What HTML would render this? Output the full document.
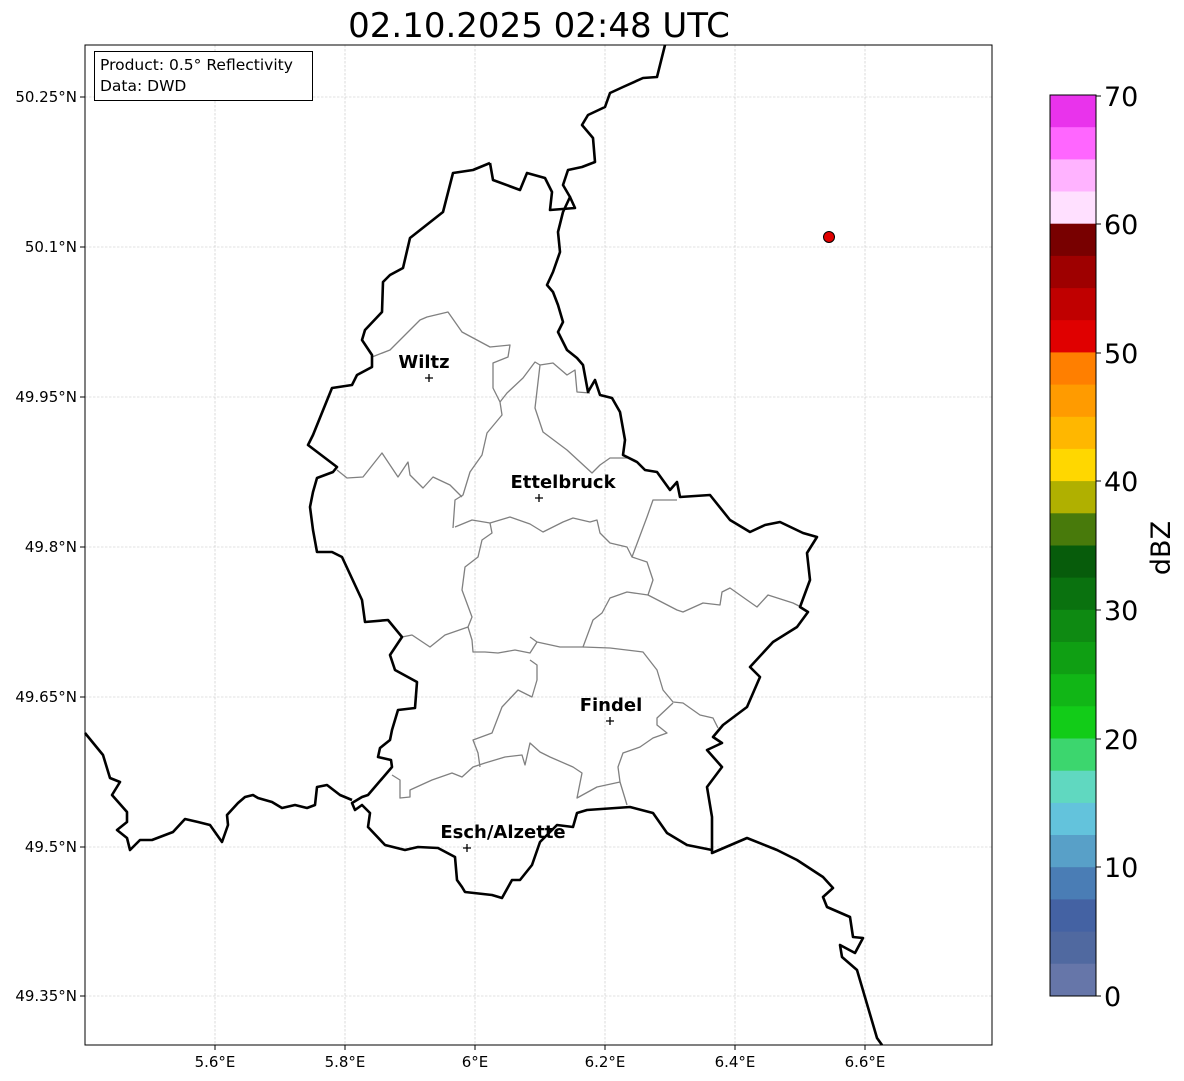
<!DOCTYPE html>
<html><head><meta charset="utf-8"><style>
body{margin:0;background:#fff}
svg{display:block;font-family:"Liberation Sans","DejaVu Sans",sans-serif}
</style></head><body>
<svg width="1184" height="1081" viewBox="0 0 1184 1081" xmlns="http://www.w3.org/2000/svg">
<rect width="1184" height="1081" fill="#fff"/>
<text x="539" y="37" font-size="34" text-anchor="middle" font-family="DejaVu Sans, sans-serif">02.10.2025 02:48 UTC</text>
<g stroke="#c4c4c4" stroke-width="0.6" stroke-dasharray="2.5,1.5">
<line x1="215" y1="45" x2="215" y2="1045"/><line x1="345" y1="45" x2="345" y2="1045"/><line x1="475" y1="45" x2="475" y2="1045"/><line x1="605" y1="45" x2="605" y2="1045"/><line x1="735" y1="45" x2="735" y2="1045"/><line x1="865" y1="45" x2="865" y2="1045"/>
<line x1="85" y1="97" x2="992" y2="97"/><line x1="85" y1="247" x2="992" y2="247"/><line x1="85" y1="397" x2="992" y2="397"/><line x1="85" y1="547" x2="992" y2="547"/><line x1="85" y1="697" x2="992" y2="697"/><line x1="85" y1="847" x2="992" y2="847"/><line x1="85" y1="996" x2="992" y2="996"/>
</g>
<g fill="none" stroke="#808080" stroke-width="1.3" stroke-linejoin="round">
<polyline points="372,357 390,350 420,320 427,317 448,312 462,332 490,347 510,345 508,357 493,363 493,388 500,402 502,415 487,433 482,455 470,472 463,495 455,500 453,528"/>
<polyline points="500,402 507,393 523,378 535,362 540,365 535,408 543,432 567,450 592,473 600,465 610,458 627,458"/>
<polyline points="540,365 553,363 567,375 575,370 577,392 590,393"/>
<polyline points="337,470 347,478 363,477 382,453 398,477 408,462 410,475 423,488 433,477 450,485 462,497"/>
<polyline points="455,527 472,520 490,523 510,517 530,524 543,532 563,522 573,518 590,522 597,520 600,533 610,543 627,547 632,557 647,562 653,580 648,595 627,592 610,598 602,613 593,620 583,647 560,647 537,642 530,637"/>
<polyline points="632,557 647,517 653,500 677,500"/>
<polyline points="648,595 677,610 683,612 703,603 720,605 722,592 730,588 747,600 757,607 768,595 793,603 803,608"/>
<polyline points="583,647 610,648 643,652 657,670 663,690 673,702 683,703 700,715 713,718 718,728"/>
<polyline points="673,703 657,718 657,725 667,733 653,738 640,747 623,753 618,767 620,782 627,805"/>
<polyline points="620,782 597,787 577,798 582,773 573,767 550,757 540,752 530,743 525,765 522,755 505,757 485,763 473,767 462,777 452,773 432,780 410,790 410,797 400,798 400,780 392,775"/>
<polyline points="402,637 412,635 430,647 445,635 468,627 472,640 473,652 485,652 498,653 515,650 530,653 537,642"/>
<polyline points="468,627 472,617 462,590 465,567 478,557 482,540 492,533 490,523"/>
<polyline points="480,767 478,753 473,740 492,733 502,707 518,690 532,697 537,680 537,665 530,660"/>
</g>
<g fill="none" stroke="#000" stroke-width="2.6" stroke-linejoin="round">
<polyline points="490,163 493,180 520,190 527,173 545,178 552,192 550,210 575,208 570,197"/>
<polyline points="665,45 660,65 657,77 643,78 623,87 610,93 605,107 588,115 582,125 593,138 595,162 582,167 568,170 563,185 570,197 563,212 558,232 560,252 553,272 547,285 553,292 558,305 563,322 558,332 567,350 577,358 583,365 588,392 595,380 600,395 612,398 620,412 625,440 623,455 637,462 645,470 657,472 670,490 677,482 680,497 710,495 730,520 750,532 765,525 780,522 803,533 817,537 807,553 810,580 800,607 808,612 797,627 773,642 750,667 760,677 747,707 723,725 713,737 722,743 707,750 722,767 707,787 712,817 712,853 747,838 777,850 797,860 823,877 833,888 823,897 827,907 850,917 853,937 863,938 855,953 840,945 842,957 857,970 877,1038 882,1045"/>
<polyline points="712,850 687,845 667,833 653,813 630,807 587,810 577,813 573,827 557,825 540,842 532,865 520,880 512,880 502,898 492,895 465,892 462,887 457,880 455,857 438,848 418,847 405,850 385,845 368,827 370,813 362,805 355,810 352,803 362,797 368,795 392,767 391,760 378,757 380,748 390,740 392,730 398,710 415,708 417,682 395,670 390,655 402,637 388,620 365,622 362,600 342,557 332,552 317,552 313,530 310,507 313,492 317,478 333,472 337,467 308,445 313,435 332,388 352,385 357,375 372,367 372,355 362,340 365,330 382,312 383,282 390,275 403,268 410,238 443,212 453,173 473,170 490,163"/>
<polyline points="85,733 103,755 110,778 120,782 112,795 127,812 127,822 117,830 127,838 130,850 140,840 152,840 173,832 185,819 198,822 210,825 222,842 228,825 227,815 238,803 245,797 253,795 258,798 272,802 282,808 295,805 307,808 315,805 317,787 327,785 340,795 352,800"/>
</g>
<rect x="85" y="45" width="907" height="1000" fill="none" stroke="#000" stroke-width="1"/>
<circle cx="829" cy="237" r="5.5" fill="#e00000" stroke="#000" stroke-width="1"/>
<g font-family="DejaVu Sans, sans-serif" font-weight="bold" font-size="18" text-anchor="middle">
<text x="424" y="368">Wiltz</text><text x="563" y="488">Ettelbruck</text><text x="611" y="711">Findel</text><text x="503" y="838">Esch/Alzette</text>
</g>
<g stroke="#000" stroke-width="1.3">
<path d="M425,378h8M429,374v8"/><path d="M535,498h8M539,494v8"/><path d="M606,721h8M610,717v8"/><path d="M463,848h8M467,844v8"/>
</g>
<rect x="94.5" y="51.5" width="218" height="49" fill="#fff" stroke="#000" stroke-width="1"/>
<g font-family="DejaVu Sans, sans-serif" font-size="15.5"><text x="100" y="70">Product: 0.5° Reflectivity</text><text x="100" y="91">Data: DWD</text></g>
<g font-family="DejaVu Sans, sans-serif" font-size="15" text-anchor="end">
<text x="77" y="102">50.25°N</text><text x="77" y="252">50.1°N</text><text x="77" y="402">49.95°N</text><text x="77" y="552">49.8°N</text><text x="77" y="702">49.65°N</text><text x="77" y="852">49.5°N</text><text x="77" y="1001">49.35°N</text>
</g>
<g font-family="DejaVu Sans, sans-serif" font-size="15" text-anchor="middle">
<text x="215" y="1067">5.6°E</text><text x="345" y="1067">5.8°E</text><text x="475" y="1067">6°E</text><text x="605" y="1067">6.2°E</text><text x="735" y="1067">6.4°E</text><text x="865" y="1067">6.6°E</text>
</g>
<g stroke="#000" stroke-width="1">
<line x1="215" y1="1045" x2="215" y2="1050"/><line x1="345" y1="1045" x2="345" y2="1050"/><line x1="475" y1="1045" x2="475" y2="1050"/><line x1="605" y1="1045" x2="605" y2="1050"/><line x1="735" y1="1045" x2="735" y2="1050"/><line x1="865" y1="1045" x2="865" y2="1050"/>
<line x1="80" y1="97" x2="85" y2="97"/><line x1="80" y1="247" x2="85" y2="247"/><line x1="80" y1="397" x2="85" y2="397"/><line x1="80" y1="547" x2="85" y2="547"/><line x1="80" y1="697" x2="85" y2="697"/><line x1="80" y1="847" x2="85" y2="847"/><line x1="80" y1="996" x2="85" y2="996"/>
</g>
<g>
<rect x="1050" y="95.0" width="46" height="32.7" fill="#e933ec"/>
<rect x="1050" y="127.2" width="46" height="32.7" fill="#ff66ff"/>
<rect x="1050" y="159.4" width="46" height="32.7" fill="#ffb3ff"/>
<rect x="1050" y="191.5" width="46" height="32.7" fill="#ffe0ff"/>
<rect x="1050" y="223.7" width="46" height="32.7" fill="#780000"/>
<rect x="1050" y="255.9" width="46" height="32.7" fill="#9e0000"/>
<rect x="1050" y="288.1" width="46" height="32.7" fill="#c00000"/>
<rect x="1050" y="320.2" width="46" height="32.7" fill="#e00000"/>
<rect x="1050" y="352.4" width="46" height="32.7" fill="#ff7f00"/>
<rect x="1050" y="384.6" width="46" height="32.7" fill="#ff9b00"/>
<rect x="1050" y="416.8" width="46" height="32.7" fill="#ffb700"/>
<rect x="1050" y="448.9" width="46" height="32.7" fill="#ffd700"/>
<rect x="1050" y="481.1" width="46" height="32.7" fill="#b0b000"/>
<rect x="1050" y="513.3" width="46" height="32.7" fill="#487a0b"/>
<rect x="1050" y="545.5" width="46" height="32.7" fill="#075c0b"/>
<rect x="1050" y="577.6" width="46" height="32.7" fill="#0a720f"/>
<rect x="1050" y="609.8" width="46" height="32.7" fill="#0e8a12"/>
<rect x="1050" y="642.0" width="46" height="32.7" fill="#0f9f13"/>
<rect x="1050" y="674.2" width="46" height="32.7" fill="#11b616"/>
<rect x="1050" y="706.3" width="46" height="32.7" fill="#12cc18"/>
<rect x="1050" y="738.5" width="46" height="32.7" fill="#3cd66e"/>
<rect x="1050" y="770.7" width="46" height="32.7" fill="#60d8c0"/>
<rect x="1050" y="802.9" width="46" height="32.7" fill="#63c3dc"/>
<rect x="1050" y="835.0" width="46" height="32.7" fill="#58a0c8"/>
<rect x="1050" y="867.2" width="46" height="32.7" fill="#4a7db5"/>
<rect x="1050" y="899.4" width="46" height="32.7" fill="#4462a3"/>
<rect x="1050" y="931.6" width="46" height="32.7" fill="#5069a0"/>
<rect x="1050" y="963.7" width="46" height="32.3" fill="#6676a9"/>
<rect x="1050" y="95" width="46" height="901" fill="none" stroke="#000" stroke-width="1"/>
</g>
<g stroke="#000" stroke-width="1">
<line x1="1096" y1="96" x2="1101" y2="96"/><line x1="1096" y1="224" x2="1101" y2="224"/><line x1="1096" y1="353" x2="1101" y2="353"/><line x1="1096" y1="481" x2="1101" y2="481"/><line x1="1096" y1="610" x2="1101" y2="610"/><line x1="1096" y1="739" x2="1101" y2="739"/><line x1="1096" y1="867" x2="1101" y2="867"/><line x1="1096" y1="996" x2="1101" y2="996"/>
</g>
<g font-family="DejaVu Sans, sans-serif" font-size="27">
<text x="1104" y="106">70</text><text x="1104" y="234">60</text><text x="1104" y="363">50</text><text x="1104" y="491">40</text><text x="1104" y="620">30</text><text x="1104" y="749">20</text><text x="1104" y="877">10</text><text x="1104" y="1006">0</text>
<text x="0" y="0" transform="translate(1170,548) rotate(-90)" text-anchor="middle">dBZ</text>
</g>
</svg>
</body></html>
